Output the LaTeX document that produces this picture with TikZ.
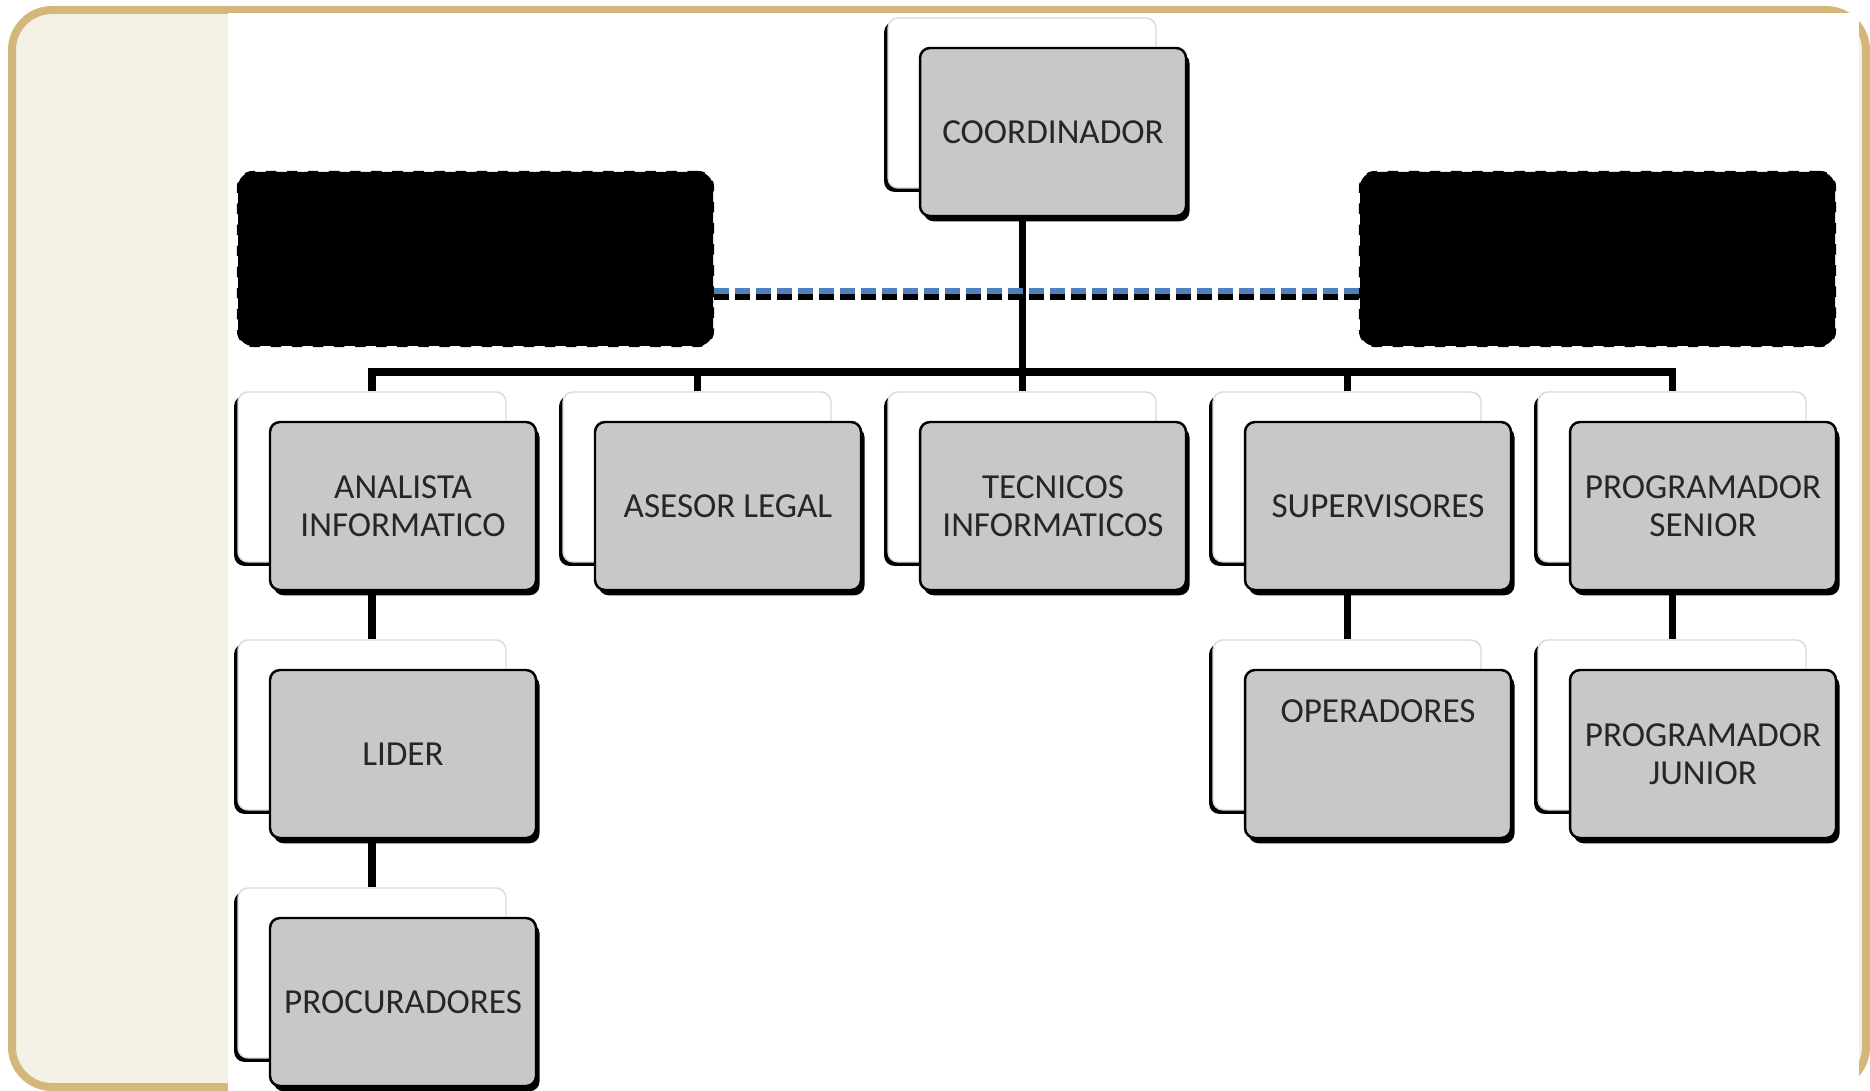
\documentclass[tikz,border=0pt]{standalone}
\usepackage{fontspec}
\setmainfont{Carlito}
\usetikzlibrary{shadows}
\definecolor{rimtan}{HTML}{D4B77B}
\definecolor{paper}{HTML}{F5F1E7}
\definecolor{boxgray}{HTML}{C8C8C8}
\definecolor{dashblue}{HTML}{4F81BD}

\begin{document}
\begin{tikzpicture}[x=0.1mm, y=-0.1mm,
    back/.style={draw=black!15, fill=white, rounded corners=1mm, inner sep=0pt, minimum width=26.8mm, minimum height=17mm, drop shadow={shadow xshift=-1.1pt, shadow yshift=-1.1pt, opacity=1, fill=black}},
    front/.style={draw=black, line width=0.7pt, fill=boxgray, rounded corners=1mm, inner sep=0pt, minimum width=26.6mm, minimum height=16.8mm, align=center, text=black!85, font=\fontsize{10}{10.8}\selectfont, drop shadow={shadow xshift=1pt, shadow yshift=-1.5pt, opacity=1, fill=black}},
    note/.style={draw=black, fill=black, dashed, line width=0.6pt, rounded corners=1.5mm, inner sep=0pt, minimum width=47.5mm, minimum height=17.4mm},
    link/.style={black, line width=2pt},
    dashline/.style={line width=1.8pt, dash pattern=on 1.45mm off 0.65mm}]
    \useasboundingbox (0,0) rectangle (1870,1091);
    \draw[draw=rimtan, fill=paper, line width=0.8mm, rounded corners=4mm] (12,10) rectangle (1866,1087);
    \fill[white] (228,13) rectangle (1859,1091);

    \node[note] (noteL) at (475.5,259) {};
    \node[note] (noteR) at (1597.5,259) {};

    \node[back] (coordB) at (1022,103) {};
    \node[back] (analB) at (372,477) {};
    \node[back] (asesB) at (697,477) {};
    \node[back] (tecB) at (1022,477) {};
    \node[back] (supB) at (1347,477) {};
    \node[back] (progB) at (1672,477) {};
    \node[back] (liderB) at (372,725) {};
    \node[back] (operB) at (1347,725) {};
    \node[back] (juniorB) at (1672,725) {};
    \node[back] (procB) at (372,973) {};

    \coordinate (bus) at (1022,372);
    \draw[link] (coordB.south) -- (bus) -- (tecB.north);
    \draw[link] (analB.north) |- (bus) -| (progB.north);
    \draw[link] (asesB.north) -- (asesB.north |- bus);
    \draw[link] (supB.north) -- (supB.north |- bus);
    \draw[link] (analB.south) -- (liderB.north);
    \draw[link] (liderB.south) -- (procB.north);
    \draw[link] (supB.south) -- (operB.north);
    \draw[link] (progB.south) -- (juniorB.north);

    \draw[dashline, black] ([yshift=-3.8mm]noteL.east) -- ([yshift=-3.8mm]noteR.west);
    \draw[dashline, dashblue] ([yshift=-3.2mm]noteL.east) -- ([yshift=-3.2mm]noteR.west);

    \node[front] (coord) at (1053,132) {COORDINADOR};
    \node[front] (anal) at (403,506) {ANALISTA\\INFORMATICO};
    \node[front] (ases) at (728,506) {ASESOR LEGAL};
    \node[front] (tec) at (1053,506) {TECNICOS\\INFORMATICOS};
    \node[front] (sup) at (1378,506) {SUPERVISORES};
    \node[front] (prog) at (1703,506) {PROGRAMADOR\\SENIOR};
    \node[front] (lider) at (403,754) {LIDER};
    \node[front, text depth=8.5mm] (oper) at (1378,754) {OPERADORES};
    \node[front] (junior) at (1703,754) {PROGRAMADOR\\JUNIOR};
    \node[front] (proc) at (403,1002) {PROCURADORES};
\end{tikzpicture}
\end{document}
